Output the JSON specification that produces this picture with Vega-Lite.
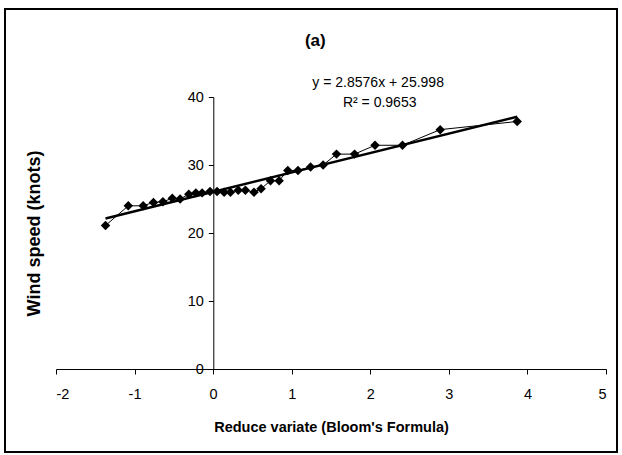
{
  "$schema": "https://vega.github.io/schema/vega-lite/v6.json",
  "width": 550,
  "height": 272,
  "autosize": {"type": "none"},
  "padding": {"left": 56, "top": 97, "right": 16, "bottom": 86},
  "background": "white",
  "config": {
    "view": {"stroke": null},
    "font": "Liberation Sans",
    "axis": {"grid": false, "domainColor": "black", "tickColor": "black", "labelColor": "black", "titleColor": "black", "labelFont": "Liberation Sans", "titleFont": "Liberation Sans"}
  },
  "data": {"values": [
    {"x": -1.37, "y": 21.1}, {"x": -1.08, "y": 24.0}, {"x": -0.89, "y": 24.0}, {"x": -0.76, "y": 24.5},
    {"x": -0.64, "y": 24.6}, {"x": -0.52, "y": 25.1}, {"x": -0.42, "y": 25.0}, {"x": -0.31, "y": 25.7},
    {"x": -0.22, "y": 25.9}, {"x": -0.14, "y": 25.9}, {"x": -0.04, "y": 26.1}, {"x": 0.05, "y": 26.1},
    {"x": 0.14, "y": 26.0}, {"x": 0.22, "y": 26.0}, {"x": 0.32, "y": 26.3}, {"x": 0.41, "y": 26.3},
    {"x": 0.52, "y": 26.0}, {"x": 0.61, "y": 26.5}, {"x": 0.73, "y": 27.7}, {"x": 0.84, "y": 27.7},
    {"x": 0.95, "y": 29.2}, {"x": 1.08, "y": 29.2}, {"x": 1.24, "y": 29.7}, {"x": 1.40, "y": 30.0},
    {"x": 1.57, "y": 31.6}, {"x": 1.80, "y": 31.6}, {"x": 2.06, "y": 32.9}, {"x": 2.41, "y": 32.9},
    {"x": 2.89, "y": 35.2}, {"x": 3.87, "y": 36.4}
  ]},
  "encoding": {
    "x": {"field": "x", "type": "quantitative", "scale": {"domain": [-2, 5], "nice": false, "zero": false},
      "axis": {"values": [-2, -1, 0, 1, 2, 3, 4, 5], "labelExpr": "'' + datum.value", "tickSize": 5, "labelPadding": 13, "labelFontSize": 14.5,
        "title": "Reduce variate (Bloom's Formula)", "titleFontSize": 14.5, "titleFontWeight": "bold", "titleY": 58, "titleBaseline": "middle"}},
    "y": {"field": "y", "type": "quantitative", "scale": {"domain": [0, 40], "nice": false, "zero": false},
      "axis": {"values": [0, 10, 20, 30, 40], "offset": -157.3, "tickSize": 5, "labelPadding": 5, "labelFontSize": 14.5,
        "title": "Wind speed (knots)", "titleFontSize": 18, "titleFontWeight": "bold", "titleAngle": -90, "titleX": -179, "titleY": 136, "titleAlign": "center", "titleBaseline": "middle"}}
  },
  "layer": [
    {"mark": {"type": "rect", "fill": null, "stroke": "black", "strokeWidth": 1},
      "encoding": {"x": {"datum": -2.654}, "x2": {"datum": 5.143}, "y": {"datum": 52.94}, "y2": {"datum": -12.2}}},
    {"mark": {"type": "line", "color": "black", "strokeWidth": 1}},
    {"transform": [{"regression": "y", "on": "x"}],
      "mark": {"type": "line", "color": "black", "strokeWidth": 2.5}},
    {"mark": {"type": "point", "shape": "diamond", "filled": true, "color": "black", "size": 90, "opacity": 1}},
    {"data": {"values": [{"t": "(a)", "tx": 1.3, "ty": 48.3}]},
      "mark": {"type": "text", "fontSize": 17, "fontWeight": "bold", "color": "black", "font": "Liberation Sans", "align": "center", "baseline": "middle"},
      "encoding": {"x": {"field": "tx", "type": "quantitative"}, "y": {"field": "ty", "type": "quantitative"}, "text": {"field": "t"}}},
    {"data": {"values": [{"t": "y = 2.8576x + 25.998", "tx": 2.1, "ty": 42.0}, {"t": "R² = 0.9653", "tx": 2.12, "ty": 39.1}]},
      "mark": {"type": "text", "fontSize": 14, "color": "black", "font": "Liberation Sans", "align": "center", "baseline": "middle"},
      "encoding": {"x": {"field": "tx", "type": "quantitative"}, "y": {"field": "ty", "type": "quantitative"}, "text": {"field": "t"}}}
  ]
}
